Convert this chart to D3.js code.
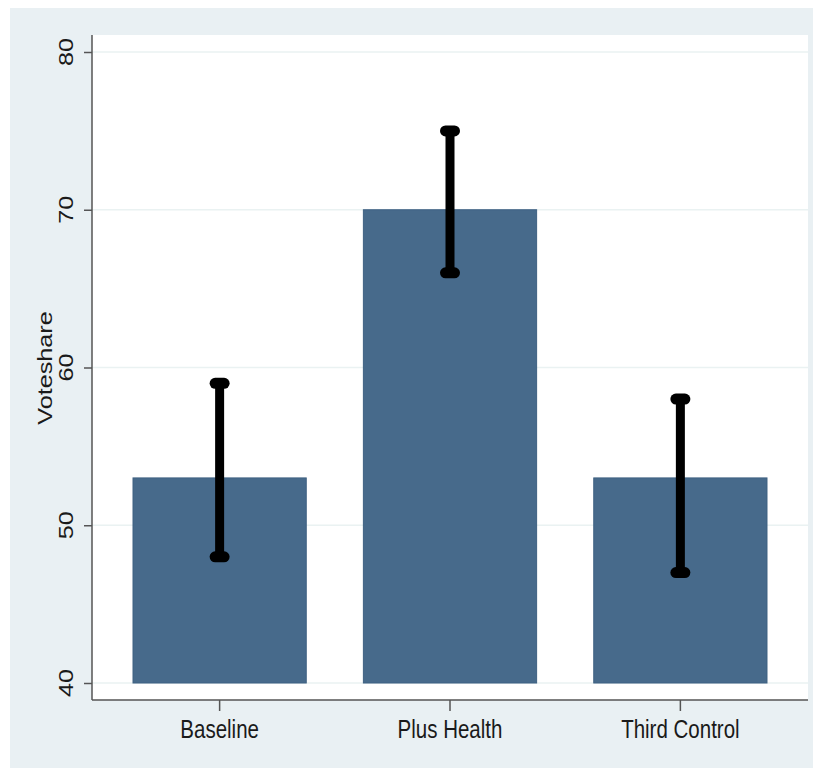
<!DOCTYPE html>
<html>
<head>
<meta charset="utf-8">
<script src="https://cdn.jsdelivr.net/npm/d3@7"></script>
<style>
  body { margin: 0; background: #ffffff; }
  .lbl { font-family: 'Liberation Sans', Arial, sans-serif; fill: #1a1a1a; }
</style>
</head>
<body>
<div id="chart"></div>
<script>
const categories = ['Baseline', 'Plus Health', 'Third Control'];
const means = [53, 70, 53];
const lower = [48, 66, 47];
const upper = [59, 75, 58];
const yTicks = [40, 50, 60, 70, 80];
const yLabel = 'Voteshare';

const width = 814;
const height = 769;
const plot = { left: 92, right: 808, top: 35, bottom: 700 };

const svg = d3.select('#chart').append('svg')
  .attr('width', width)
  .attr('height', height);

// outer graph region
svg.append('rect')
  .attr('x', 10).attr('y', 8)
  .attr('width', 803).attr('height', 760)
  .attr('fill', '#e9f0f3');

// plot region
svg.append('rect')
  .attr('x', plot.left).attr('y', plot.top)
  .attr('width', plot.right - plot.left).attr('height', plot.bottom - plot.top)
  .attr('fill', '#ffffff');

const x = d3.scaleBand()
  .domain(categories)
  .range([plot.left, plot.right])
  .paddingInner(0.248)
  .paddingOuter(0.178);

const y = d3.scaleLinear().domain([40, 80]).range([683, 52]);

/* grid lines */
svg.append('g').selectAll('line')
  .data(yTicks)
  .enter()
  .append('line')
  .attr('x1', plot.left).attr('x2', plot.right)
  .attr('y1', d => y(d)).attr('y2', d => y(d))
  .attr('stroke', '#eaf2f2')
  .attr('stroke-width', 1.5);

/* bars */
svg.append('g').selectAll('rect')
  .data(categories)
  .enter()
  .append('rect')
  .attr('x', d => x(d))
  .attr('y', (d, i) => y(means[i]))
  .attr('width', x.bandwidth())
  .attr('height', (d, i) => y(40) - y(means[i]))
  .attr('fill', '#476a8b')
  .attr('stroke', '#3f6182')
  .attr('stroke-width', 1);

/* error bars */
const err = svg.append('g');
categories.forEach((c, i) => {
  const cx = x(c) + x.bandwidth() / 2;
  err.append('line')
    .attr('x1', cx).attr('x2', cx)
    .attr('y1', y(lower[i])).attr('y2', y(upper[i]))
    .attr('stroke', '#000').attr('stroke-width', 9);
  [lower[i], upper[i]].forEach(v => {
    err.append('line')
      .attr('x1', cx - 4.5).attr('x2', cx + 4.5)
      .attr('y1', y(v)).attr('y2', y(v))
      .attr('stroke', '#000').attr('stroke-width', 11)
      .attr('stroke-linecap', 'round');
  });
});

/* Y axis */
const yAxis = svg.append('g')
  .attr('transform', 'translate(' + plot.left + ',0)')
  .call(d3.axisLeft(y).tickValues(yTicks).tickSize(8).tickFormat(''));
yAxis.select('.domain').remove();
yAxis.selectAll('line').attr('stroke', '#555').attr('stroke-width', 1.5);
svg.append('line')
  .attr('x1', plot.left).attr('x2', plot.left)
  .attr('y1', plot.top).attr('y2', plot.bottom)
  .attr('stroke', '#555').attr('stroke-width', 1.5);

svg.append('g').selectAll('text')
  .data(yTicks)
  .enter()
  .append('text')
  .attr('class', 'lbl')
  .attr('transform', d => 'translate(73,' + y(d) + ') rotate(-90) scale(1.2,1)')
  .attr('text-anchor', 'middle')
  .style('font-size', '21px')
  .text(d => d);

svg.append('text')
  .attr('class', 'lbl')
  .attr('transform', 'translate(52,368) rotate(-90) scale(1.2,1)')
  .attr('text-anchor', 'middle')
  .style('font-size', '21px')
  .text(yLabel);

/* X axis */
const xAxis = svg.append('g')
  .attr('transform', 'translate(0,' + plot.bottom + ')')
  .call(d3.axisBottom(x).tickSize(11).tickFormat(''));
xAxis.select('.domain').remove();
xAxis.selectAll('line').attr('stroke', '#555').attr('stroke-width', 1.5);
svg.append('line')
  .attr('x1', plot.left).attr('x2', plot.right)
  .attr('y1', plot.bottom).attr('y2', plot.bottom)
  .attr('stroke', '#555').attr('stroke-width', 1.5);

svg.append('g').selectAll('text')
  .data(categories)
  .enter()
  .append('text')
  .attr('class', 'lbl')
  .attr('transform', d => 'translate(' + (x(d) + x.bandwidth() / 2) + ',738) scale(1,1.22)')
  .attr('text-anchor', 'middle')
  .style('font-size', '20.5px')
  .text(d => d);
</script>
</body>
</html>
